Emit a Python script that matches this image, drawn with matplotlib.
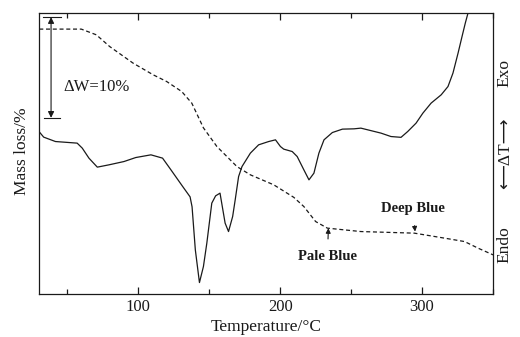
import matplotlib
matplotlib.use("Agg")
import matplotlib.pyplot as plt
from matplotlib.ticker import MultipleLocator

# DTA trace (solid), temperature in degC, signal in arbitrary units
dta_t = [30, 33.3, 41.6, 56.9, 60.5, 65.2, 71.1, 79.3, 89.9, 98.2, 108.9, 117.1,
         123.0, 131.3, 136.5, 137.9, 140.2, 143.1, 145.9, 148.3, 151.8, 154.5,
         157.6, 161.2, 163.6, 166.5, 168.3, 170.7, 173.1, 179.0, 184.8, 191.9,
         196.7, 200.2, 202.5, 208.5, 212.0, 216.7, 220.3, 223.8, 227.3, 230.9,
         236.8, 243.9, 252.1, 256.9, 271.1, 278.1, 285.2, 289.9, 295.8, 300.6,
         306.4, 313.5, 318.3, 321.8, 325.4, 328.2, 330.5, 332.4]
dta_v = [162.3, 156.7, 152.3, 150.7, 145.7, 135.7, 126.7, 129, 132.3, 136.3, 139,
         135.7, 124, 107.3, 97, 87, 44, 11.3, 27.3, 50.7, 90.7, 98,
         100.7, 70.7, 62.3, 77.3, 94, 117.3, 127.3, 140.7, 149, 152.3,
         154, 147.3, 144.7, 142.3, 137.3, 124, 114, 120.7, 140.7, 154,
         161.3, 164.7, 165, 165.7, 160.7, 157.3, 156.5, 162.3, 170.7, 180.7,
         190.7, 199, 207.3, 220.7, 240.7, 257.3, 270.7, 280.7]

# TG trace (dashed)
tg_t = [30.2, 59.8, 70.4, 79.8, 96.3, 110.5, 120.0, 130.6, 137.7, 145.9, 155.4,
        169.5, 179.0, 195.5, 209.6, 216.7, 225.0, 233.3, 256.9, 294.6, 315.9,
        330.0, 339.5, 350.1]
tg_v = [264.7, 264.7, 259, 247.3, 230.7, 219, 212.3, 202.3, 190.7, 166, 147.3,
        127.3, 119, 109, 96.5, 87.3, 72.3, 65.7, 62.3, 60.7, 55.7,
        52.3, 45.7, 39]

SERIF = ["Liberation Serif", "DejaVu Sans"]
INK = "#1a1a1a"

fig = plt.figure(figsize=(5.2, 3.37), dpi=100)
ax = fig.add_axes([0.075, 0.128, 0.873, 0.834])

ax.plot(dta_t, dta_v, color=INK, lw=0.9)
ax.plot(tg_t, tg_v, color=INK, lw=0.9, ls=(0, (3.2, 2.2)))

ax.set_xlim(30, 350)
ax.set_ylim(0, 281)
ax.set_yticks([])
ax.xaxis.set_major_locator(MultipleLocator(100))
ax.xaxis.set_minor_locator(MultipleLocator(50))
ax.tick_params(axis="x", which="both", direction="in", top=True, colors=INK,
               labelsize=12)
ax.tick_params(axis="x", which="major", length=5, width=0.9)
ax.tick_params(axis="x", which="minor", length=3.5, width=0.9)
for lab in ax.get_xticklabels():
    lab.set_family(SERIF)
for s in ax.spines.values():
    s.set_color(INK); s.set_linewidth(0.9)

# Delta W bracket
ax.plot([32.6, 45.6], [276.7, 276.7], color=INK, lw=0.8)
ax.plot([33.8, 45.1], [176, 176], color=INK, lw=0.8)
ax.annotate("", xy=(38.5, 276.7), xytext=(38.5, 176),
            arrowprops=dict(arrowstyle="<|-|>", color=INK, lw=0.8,
                            mutation_scale=9, shrinkA=0, shrinkB=0))
ax.text(47, 207, "ΔW=10%", family=SERIF, fontsize=12, color=INK,
        ha="left", va="center")

# colour change markers
ax.annotate("Pale Blue", xy=(234.0, 65.7), xytext=(233.3, 37.3),
            ha="center", va="center", family=SERIF, fontsize=10.5,
            fontweight="bold", color=INK,
            arrowprops=dict(arrowstyle="-|>", color=INK, lw=0.8,
                            mutation_scale=7, shrinkA=6, shrinkB=0))
ax.annotate("Deep Blue", xy=(295.1, 62.3), xytext=(293.5, 85.7),
            ha="center", va="center", family=SERIF, fontsize=10.5,
            fontweight="bold", color=INK,
            arrowprops=dict(arrowstyle="-|>", color=INK, lw=0.8,
                            mutation_scale=7, shrinkA=6, shrinkB=0))

ax.set_xlabel("Temperature/°C", family=SERIF, fontsize=12.5, color=INK, labelpad=3)
fig.text(0.042, 0.55, "Mass loss/%", family=SERIF, fontsize=12.5, color=INK,
         rotation=90, ha="center", va="center")
for txt, yf in [("Exo", 0.783), ("⟵ΔT⟶", 0.545), ("Endo", 0.273)]:
    fig.text(0.971, yf, txt, family=SERIF, fontsize=12.5, color=INK,
             rotation=90, ha="center", va="center")

fig.savefig("out.png", dpi=100, facecolor="white")
